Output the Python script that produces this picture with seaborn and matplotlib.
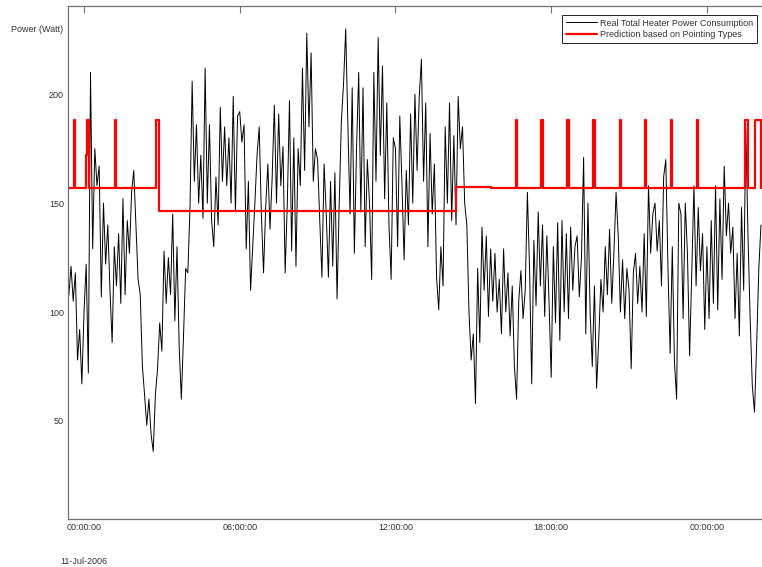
import matplotlib
matplotlib.use("Agg")
import matplotlib.pyplot as plt
import matplotlib.dates as mdates
import numpy as np
import pandas as pd
import seaborn as sns

# --- data ---
start_time = "2006-07-10 23:25"   # first sample, 5 minute steps
power_watt = [
    108, 121, 105, 118, 78, 92, 67,                                   # 23:25-23:55
    100, 122, 72, 210, 129, 175, 158, 167, 107, 150, 122, 140,         # 00h
    110, 86, 130, 112, 136, 104, 152, 108, 142, 127, 155, 165,         # 01h
    140, 115, 108, 75, 62, 48, 60, 44, 36, 62, 74, 95,                 # 02h
    82, 128, 104, 125, 108, 145, 96, 130, 84, 60, 89, 120,             # 03h
    118, 148, 206, 160, 186, 150, 172, 143, 212, 150, 186, 142,        # 04h
    130, 162, 140, 194, 160, 185, 158, 180, 150, 199, 146, 190,        # 05h
    192, 178, 186, 129, 160, 110, 130, 150, 172, 185, 145, 118,        # 06h
    148, 168, 138, 162, 195, 150, 191, 158, 176, 118, 150, 197,        # 07h
    128, 180, 121, 175, 158, 212, 165, 228, 185, 219, 160, 175,        # 08h
    170, 142, 116, 168, 145, 116, 160, 121, 164, 106, 150, 188,        # 09h
    205, 230, 186, 145, 203, 127, 175, 210, 146, 203, 130, 170,        # 10h
    150, 115, 210, 160, 226, 172, 213, 152, 196, 140, 115, 180,        # 11h
    175, 130, 190, 159, 124, 165, 140, 191, 150, 200, 165, 199,        # 12h
    216, 160, 196, 130, 182, 145, 168, 116, 101, 130, 112, 185,        # 13h
    150, 196, 142, 181, 140, 199, 175, 185, 150, 140, 100, 78,         # 14h
    90, 58, 120, 86, 139, 110, 135, 98, 129, 105, 127, 100,            # 15h
    115, 90, 129, 100, 118, 89, 112, 75, 60, 105, 119, 97,             # 16h
    110, 155, 120, 67, 133, 103, 146, 112, 140, 98, 135, 105,          # 17h
    70, 130, 95, 141, 87, 142, 100, 136, 97, 139, 110, 130,            # 18h
    135, 107, 125, 171, 90, 150, 100, 75, 112, 65, 88, 115,            # 19h
    100, 130, 108, 138, 104, 127, 155, 135, 100, 124, 97, 120,         # 20h
    110, 74, 118, 127, 104, 121, 100, 136, 98, 158, 127, 145,          # 21h
    150, 128, 142, 112, 162, 170, 120, 81, 130, 77, 60, 150,           # 22h
    145, 97, 150, 127, 80, 118, 158, 112, 148, 119, 136, 92,           # 23h
    130, 97, 142, 104, 158, 101, 152, 115, 167, 135, 150, 127,         # 00h (12 Jul)
    139, 97, 127, 89, 148, 110, 184, 135, 97, 66, 54, 85,              # 01h
    120, 140,                                                          # 02h
]

# prediction: hours after 11-Jul 00:00 where the level changes
pred_hours = [-0.62, -0.38, -0.33, 0.09, 0.13, 0.19, 1.20, 1.25, 2.79, 2.90,
              14.32, 15.67,
              16.63, 16.68, 17.62, 17.67, 18.62, 18.67, 19.62, 19.67,
              20.65, 20.70, 21.62, 21.67, 22.62, 22.67, 23.62, 23.67,
              25.46, 25.60, 25.86, 26.07, 26.14]
pred_watt = [157, 188, 157, 172, 188, 157, 188, 157, 188, 146.5,
             157.5, 156.8,
             188, 156.8, 188, 156.8, 188, 156.8, 188, 156.8,
             188, 156.8, 188, 156.8, 188, 156.8, 188, 156.8,
             188, 156.8, 188, 156.8, 156.8]

y_ticks = [50, 100, 150, 200]

day0 = pd.Timestamp("2006-07-11 00:00")
times = pd.date_range(start_time, periods=len(power_watt), freq="5min")
pred_times = day0 + pd.to_timedelta(pred_hours, unit="h")

sns.set_style("white")
plt.rcParams["font.family"] = ["Liberation Sans", "DejaVu Sans"]
plt.rcParams["font.size"] = 6.5
txt_col = "#333333"
spine_col = "#707070"

fig = plt.figure(figsize=(7.62, 5.67), dpi=100)
# right frame of the original sits just outside the picture
ax = fig.add_axes([68 / 762, 1 - 519 / 567, 696 / 762, 513 / 567])

sns.lineplot(x=times, y=power_watt, color="black", lw=0.7, ax=ax,
             estimator=None, sort=False,
             label="Real Total Heater Power Consumption")
sns.lineplot(x=pred_times, y=pred_watt, color="red", lw=1.6, ax=ax,
             estimator=None, sort=False, drawstyle="steps-post",
             label="Prediction based on Pointing Types")

ax.set_xlim(day0 + pd.Timedelta(hours=-0.617), day0 + pd.Timedelta(hours=26.2))
ax.set_ylim(5, 240.5)
ax.set_yticks(y_ticks)
ax.xaxis.set_major_locator(mdates.HourLocator(byhour=[0, 6, 12, 18]))
ax.xaxis.set_major_formatter(mdates.DateFormatter("%H:%M:%S"))
ax.set_xlabel("")
ax.set_ylabel("")

ax.tick_params(direction="in", length=5, width=0.8, colors=spine_col,
               labelcolor=txt_col, labelsize=6.5, top=True, right=False, pad=3)
for s in ax.spines.values():
    s.set_color(spine_col)
    s.set_linewidth(0.9)
    s.set_visible(True)

leg = ax.legend(loc="upper right", bbox_to_anchor=(757 / 762, 1 - 15 / 567),
                bbox_transform=fig.transFigure, borderaxespad=0,
                fontsize=6.5, frameon=True, fancybox=False,
                edgecolor="#222222", framealpha=1, handlelength=3.4,
                borderpad=0.4, labelspacing=0.3, handletextpad=0.4)
leg.get_frame().set_linewidth(0.7)
for t in leg.get_texts():
    t.set_color(txt_col)

fig.text(63 / 762, 1 - 29 / 567, "Power (Watt)", ha="right", va="center",
         fontsize=6.5, color=txt_col)
fig.text(60 / 762, 1 - 561 / 567, "11-Jul-2006", ha="left", va="center",
         fontsize=6.5, color=txt_col)

fig.savefig("out.png", dpi=100)
